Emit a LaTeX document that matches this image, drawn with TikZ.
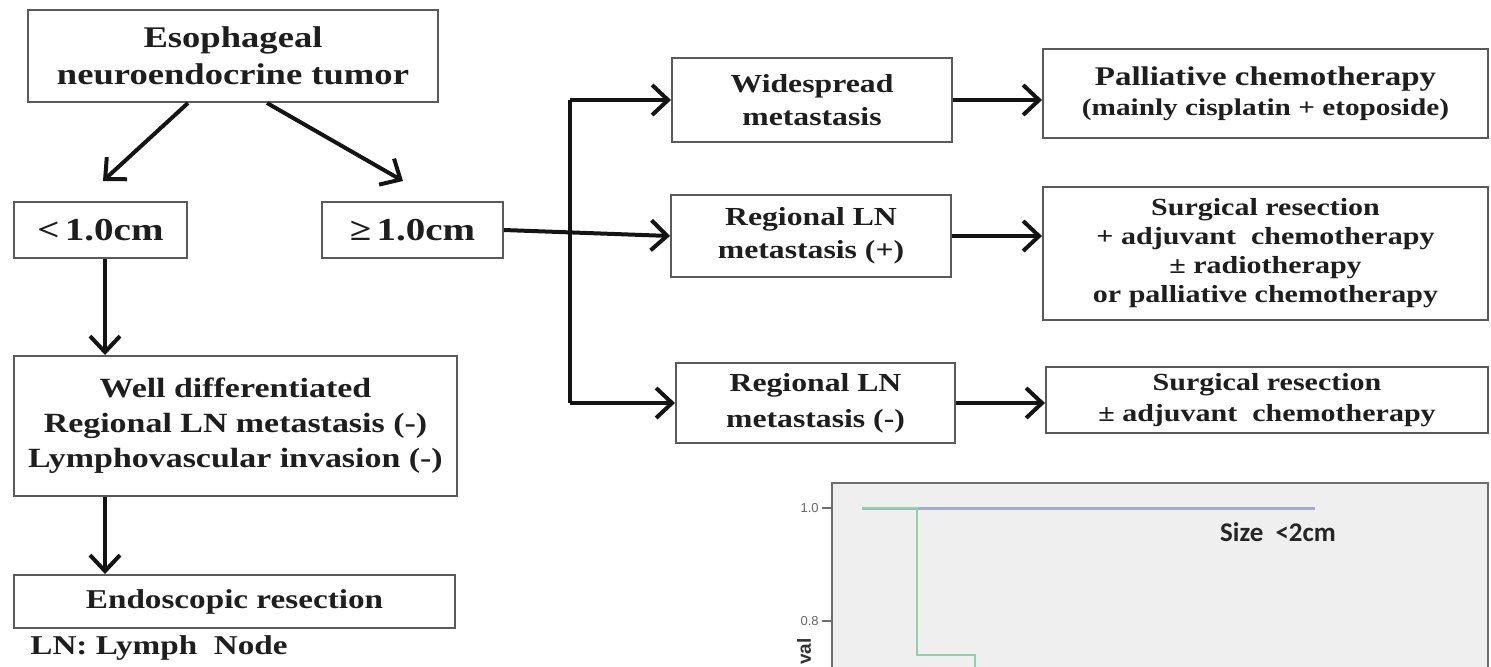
\documentclass[tikz,border=0pt]{standalone}
\usepackage{fontspec}
\setmainfont{Liberation Serif}[FakeStretch=1.22]
\newfontfamily\chartfont{Carlito}
\newfontfamily\tickfont{Liberation Sans}
\usetikzlibrary{arrows.meta}
\definecolor{boxgray}{HTML}{5A5A5A}
\definecolor{textdark}{HTML}{1E1E1E}
\definecolor{chartbg}{HTML}{EFEFEF}
\definecolor{chartframe}{HTML}{6E6E6E}
\definecolor{bluecurve}{HTML}{A3AACB}
\definecolor{greencurve}{HTML}{8ED3A2}
\newcommand{\fs}[2]{\fontsize{#1}{#2}\selectfont}
\begin{document}
\begin{tikzpicture}[x=0.5pt,y=-0.5pt,
  box/.style={draw=boxgray, line width=1pt, fill=white, align=center, inner sep=0pt, text=textdark},
  arr/.style={draw=black!92, line width=2pt, -{Straight Barb[length=8pt,width=15pt]}},
  ln/.style={draw=black!92, line width=2pt}]
\useasboundingbox (0,0) rectangle (1491,666);

% ---- left column
\node[box, minimum width=205pt, minimum height=46pt, font=\bfseries\fs{15}{18.5}] (top) at (233,56) {Esophageal\\neuroendocrine tumor};
\node[box, minimum width=86.5pt, minimum height=28pt, font=\bfseries\fs{16}{18}] (lt) at (100.5,230) {<\,1.0cm};
\node[box, minimum width=90.5pt, minimum height=28pt, font=\bfseries\fs{16}{18}] (ge) at (412.5,230) {≥\,1.0cm};
\node[box, minimum width=221.5pt, minimum height=70pt, font=\bfseries\fs{13.9}{17.5}] (well) at (235.5,426) {Well differentiated\\Regional LN  metastasis (-)\\Lymphovascular invasion (-)};
\node[box, minimum width=220.5pt, minimum height=26.5pt, font=\bfseries\fs{13.6}{16}] (endo) at (234.5,601.5) {Endoscopic resection};
\node[anchor=west, inner sep=0pt, text=textdark, font=\bfseries\fs{13.6}{16}] (lnnote) at (30,648) {LN: Lymph\ \ Node};

% ---- middle column
\node[box, minimum width=140pt, minimum height=42pt, font=\bfseries\fs{13}{16.5}] (wide) at (812,100) {Widespread\\metastasis};
\node[box, minimum width=140pt, minimum height=41pt, font=\bfseries\fs{13}{16.5}] (regp) at (811,236) {Regional LN\\metastasis (+)};
\node[box, minimum width=139.5pt, minimum height=40pt, font=\bfseries\fs{13}{18}] (regm) at (815.5,403) {Regional LN\\metastasis (-)};

% ---- right column
\node[box, minimum width=222.5pt, minimum height=44.5pt, font=\bfseries\fs{12}{15}] (pal) at (1265.5,93.5) {{\fs{13.5}{15}Palliative chemotherapy}\\(mainly cisplatin + etoposide)};
\node[box, minimum width=222.5pt, minimum height=66.5pt, font=\bfseries\fs{12.3}{14.5}] (surp) at (1265.5,253.5) {Surgical resection\\+ adjuvant\ \ chemotherapy\\± radiotherapy\\or palliative chemotherapy};
\node[box, minimum width=221pt, minimum height=33pt, font=\bfseries\fs{12.3}{15.5}] (surm) at (1267,400) {Surgical resection\\± adjuvant\ \ chemotherapy};

% ---- connectors
\draw[arr] ([xshift=-22.5pt]top.south) -- ([xshift=1.25pt,yshift=10pt]lt.north);
\draw[arr] ([xshift=17pt]top.south) -- ([xshift=-4.75pt,yshift=10pt]ge.north);
\draw[arr] ([xshift=2.25pt]lt.south) -- ([xshift=2.25pt]lt.south |- well.north);
\draw[arr] ([xshift=2.25pt]lt.south |- well.south) -- ([xshift=2.25pt]lt.south |- endo.north);

\coordinate (jt) at (570,100);
\coordinate (jb) at (570,403);
\draw[ln] (jt) -- (jb);
\draw[arr] (ge.east) -- (regp.west);
\draw[arr] (jt) -- (wide.west);
\draw[arr] (jb) -- (regm.west);
\draw[arr] (wide.east) -- (wide.east -| pal.west);
\draw[arr] (regp.east) -- (regp.east -| surp.west);
\draw[arr] (regm.east) -- (regm.east -| surm.west);

% ---- survival chart (partly visible)
\begin{scope}
\clip (0,0) rectangle (1491,666);
\fill[chartbg] (832,483) rectangle (1489,720);
\draw[chartframe, line width=1pt] (832,720) -- (832,483) -- (1488,483) -- (1488,720);
\draw[chartframe, line width=1pt] (822,508) -- (832,508);
\draw[chartframe, line width=1pt] (822,621) -- (832,621);
\node[anchor=east, inner sep=0pt, text=black!60, font=\tickfont\fs{6.5}{7}] (t10) at (819,508) {1.0};
\node[anchor=east, inner sep=0pt, text=black!60, font=\tickfont\fs{6.5}{7}] (t08) at (819,621) {0.8};
\node[anchor=east, rotate=90, inner sep=0pt, text=black!80, font=\tickfont\bfseries\fs{9.5}{10}] (ylab) at (804,638) {val};
\draw[bluecurve, line width=1.5pt] (862,508) -- (1315,508);
\draw[greencurve, line width=1.3pt] (862,508) -- (917,508) -- (917,655) -- (975,655) -- (975,700);
\node[inner sep=0pt, text=black!85, font=\chartfont\bfseries\fs{13.5}{15}] (sizelab) at (1278,532) {Size\ \ <2cm};
\end{scope}
\end{tikzpicture}
\end{document}
